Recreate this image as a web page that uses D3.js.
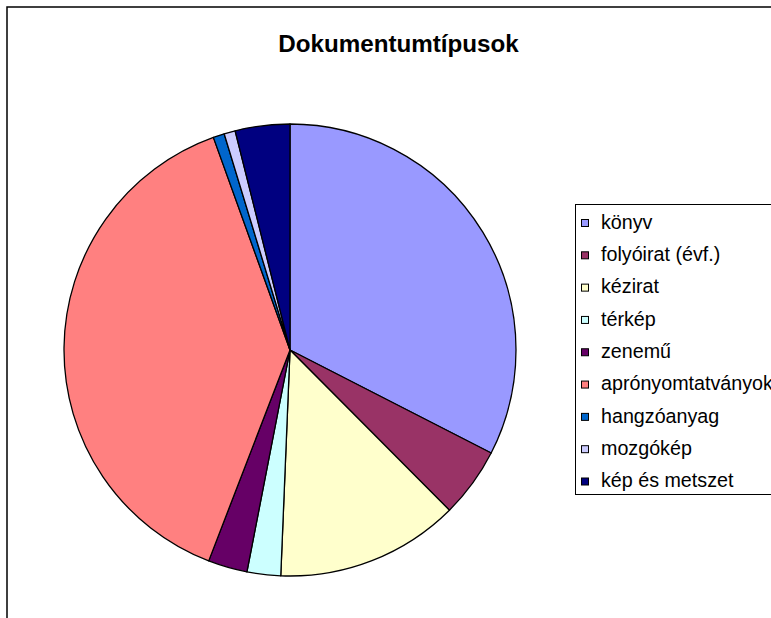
<!DOCTYPE html>
<html>
<head>
<meta charset="utf-8">
<script src="https://cdn.jsdelivr.net/npm/d3@7"></script>
<style>
  body { margin: 0; background: #fff; }
  svg { font-family: "Liberation Sans", Arial, sans-serif; }
</style>
</head>
<body>
<svg id="chart" width="771" height="618"></svg>
<script>
const categories = ['könyv', 'folyóirat (évf.)', 'kézirat', 'térkép', 'zenemű',
  'aprónyomtatványok', 'hangzóanyag', 'mozgókép', 'kép és metszet'];
const shares = [32.5, 5.0, 13.1, 2.4, 2.8, 38.6, 0.8, 0.8, 3.9];
const colors = ['#9999FF', '#993366', '#FFFFCC', '#CCFFFF', '#660066',
  '#FF8080', '#0066CC', '#CCCCFF', '#000080'];
const title = 'Dokumentumtípusok';

const center = { x: 290, y: 350 };
const radius = 226;

const svg = d3.select('#chart');

// chart area border (runs off the right and bottom edges)
svg.append('rect')
  .attr('x', 7).attr('y', 7)
  .attr('width', 800).attr('height', 650)
  .attr('fill', '#fff')
  .attr('stroke', '#000')
  .attr('stroke-width', 1.5);

svg.append('text')
  .attr('x', 398.5).attr('y', 52)
  .attr('text-anchor', 'middle')
  .attr('font-size', 24.2)
  .attr('font-weight', 'bold')
  .text(title);

const data = categories.map((c, i) => ({ name: c, value: shares[i], color: colors[i] }));
const pie = d3.pie().sort(null).value(d => d.value);
const arc = d3.arc().innerRadius(0).outerRadius(radius);

svg.append('g')
  .attr('transform', `translate(${center.x},${center.y})`)
  .selectAll('path').data(pie(data)).enter()
  .append('path')
  .attr('d', arc)
  .attr('fill', d => d.data.color)
  .attr('stroke', '#000')
  .attr('stroke-width', 1.3)
  .attr('stroke-linejoin', 'round');

// legend
const legend = svg.append('g');
legend.append('rect')
  .attr('x', 575.5).attr('y', 204.5)
  .attr('width', 220).attr('height', 290)
  .attr('fill', '#fff')
  .attr('stroke', '#000')
  .attr('stroke-width', 1);

const rowY = d3.scalePoint().domain(categories).range([223, 481.5]);
const items = legend.selectAll('g.item').data(data).enter()
  .append('g').attr('class', 'item')
  .attr('transform', d => `translate(0,${rowY(d.name)})`);
items.append('rect')
  .attr('x', 581.5).attr('y', -3.5)
  .attr('width', 7).attr('height', 7)
  .attr('fill', d => d.color)
  .attr('stroke', '#000')
  .attr('stroke-width', 1);
items.append('text')
  .attr('x', 601).attr('y', 5.8)
  .attr('font-size', 19.7)
  .text(d => d.name);
</script>
</body>
</html>
